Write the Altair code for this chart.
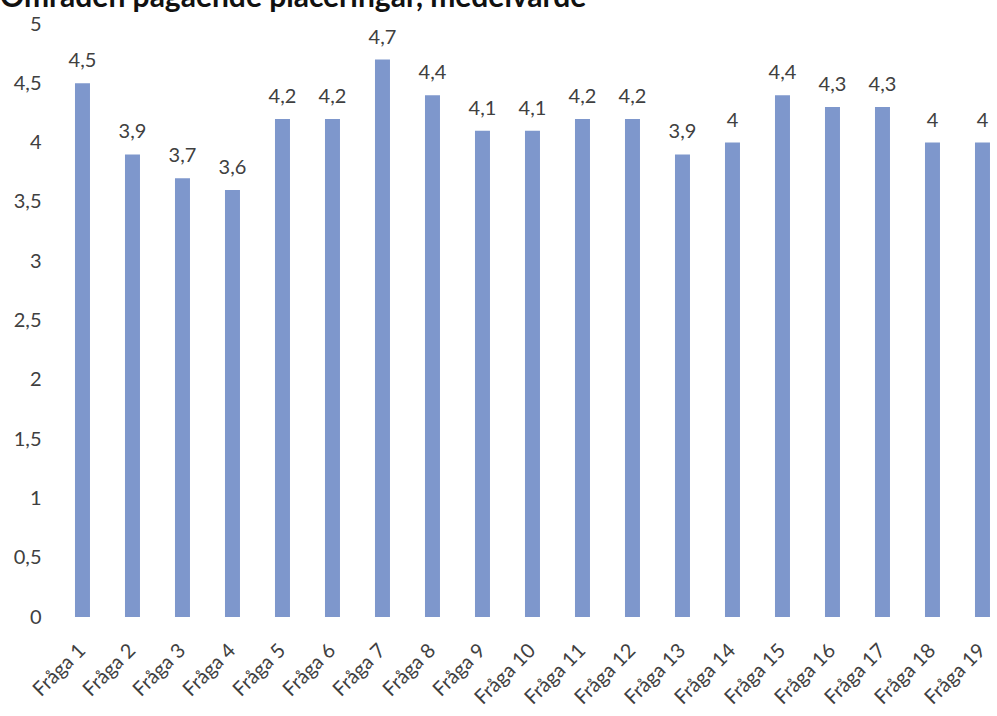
import altair as alt
import pandas as pd

categories = [f"Fråga {i}" for i in range(1, 20)]
values = [4.5, 3.9, 3.7, 3.6, 4.2, 4.2, 4.7, 4.4, 4.1, 4.1, 4.2, 4.2, 3.9, 4.0, 4.4, 4.3, 4.3, 4.0, 4.0]
title_text = "Områden pågående placeringar, medelvärde"


def fmt(v):
    s = f"{v:.1f}"
    if s.endswith(".0"):
        s = s[:-2]
    return s.replace(".", ",")


df = pd.DataFrame({"cat": categories, "val": values, "lbl": [fmt(v) for v in values]})

FONT = "Lato"
TXT = "#404040"
BAR = "#7e97cc"
FS = 20

x = alt.X(
    "cat:N",
    sort=categories,
    title=None,
    scale=alt.Scale(paddingInner=0.7, paddingOuter=0.27, align=0.74),
    axis=alt.Axis(
        labelAngle=-45,
        labelAlign="right",
        labelBaseline="middle",
        labelPadding=30,
        labelFont=FONT,
        labelFontSize=FS,
        labelColor=TXT,
        ticks=False,
        domain=False,
        grid=False,
    ),
)
y = alt.Y(
    "val:Q",
    title=None,
    scale=alt.Scale(domain=[0, 5], nice=False, zero=True),
    axis=alt.Axis(
        values=[0, 0.5, 1, 1.5, 2, 2.5, 3, 3.5, 4, 4.5, 5],
        labelExpr="replace(format(datum.value, '~g'), '.', ',')",
        labelFont=FONT,
        labelFontSize=FS,
        labelColor=TXT,
        labelPadding=14,
        ticks=False,
        domain=False,
        grid=False,
    ),
)

base = alt.Chart(df)
bars = base.mark_bar(color=BAR).encode(x=x, y=y)
labels = base.mark_text(
    font=FONT, fontSize=FS, color=TXT, baseline="middle", dy=-22
).encode(x=x, y=y, text="lbl:N")

title = alt.Chart(pd.DataFrame({"t": [title_text]})).mark_text(
    font=FONT, fontSize=30, fontWeight="bold", color="#111111", align="left", baseline="alphabetic"
).encode(x=alt.value(-55), y=alt.value(-17), text="t:N")

chart = (
    alt.layer(bars, labels, title)
    .properties(
        width=942,
        height=593,
        autosize=alt.AutoSizeParams(type="none"),
        padding={"left": 55, "top": 24, "right": 0, "bottom": 99},
        background="white",
    )
    .configure_view(stroke=None)
)

chart.save("out.html", embed_options={"renderer": "svg", "actions": False})
